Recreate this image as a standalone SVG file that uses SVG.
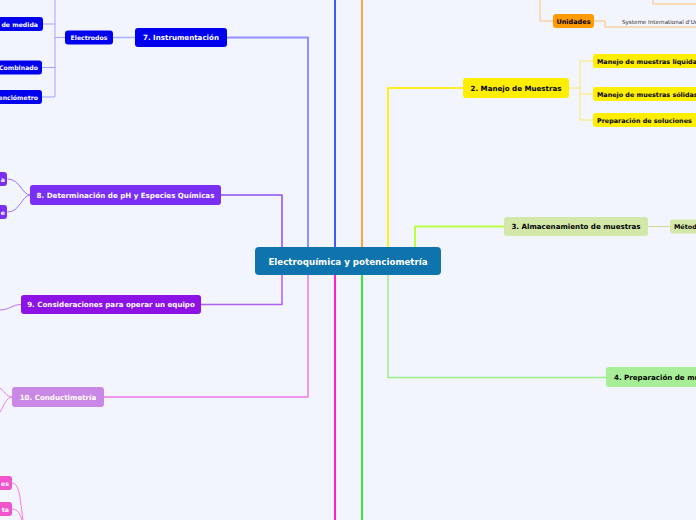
<svg xmlns="http://www.w3.org/2000/svg" width="696" height="520" viewBox="0 0 696 520">
<style>
text{font-family:"DejaVu Sans","Verdana",sans-serif;font-weight:bold}
.w{fill:#fff}
.k{fill:#000}
.c{fill:none;stroke-linecap:round;stroke-linejoin:round}
</style>
<rect width="696" height="520" fill="#f2f5fe"/>
<g id="connectors" class="c">
<path d="M227 37.5H308V247" stroke="#8f8fff" stroke-width="2"/>
<path d="M335 0V247" stroke="#3a5cff" stroke-width="2"/>
<path d="M362 0V247" stroke="#ffa53a" stroke-width="2"/>
<path d="M463 88H388V247" stroke="#ffee22" stroke-width="2"/>
<path d="M504 226.5H415V247" stroke="#b8ff44" stroke-width="2"/>
<path d="M221 195H282V247" stroke="#8d4df5" stroke-width="1.5"/>
<path d="M201 304.5H282V275" stroke="#b060f0" stroke-width="1.5"/>
<path d="M104 397H308V275" stroke="#ee77ee" stroke-width="1.5"/>
<path d="M335 275V520" stroke="#ff22cc" stroke-width="2"/>
<path d="M362 275V520" stroke="#33ee33" stroke-width="2"/>
<path d="M388 275V377.5H606" stroke="#99ee88" stroke-width="1.5"/>
<path d="M135 37.5H113" stroke="#aab0ff" stroke-width="1.5"/>
<path d="M65 37.5H55M55 0V97H42M55 24H43M55 67.5H42" stroke="#9fa4ff" stroke-width="1"/>
<path d="M569 88H580V61H593M580 94H593M580 88V120H593" stroke="#ffe866" stroke-width="1"/>
<path d="M648 226.5H670" stroke="#c8dd99" stroke-width="1"/>
<path d="M540 0V21H553" stroke="#ffc070" stroke-width="1"/>
<path d="M594 21H605V27H696" stroke="#ffc070" stroke-width="1"/>
<path d="M653 0V4H696" stroke="#ffc070" stroke-width="1"/>
<path d="M30 195C22 195 20 179 8 179M30 195C22 195 20 212 8 212" stroke="#a070ff" stroke-width="1"/>
<path d="M21 304.5C12 304.5 10 310 0 310" stroke="#c070f0" stroke-width="1"/>
<path d="M12 397C6 397 4 390 0 388M12 397C6 397 4 406 0 412" stroke="#ee77ee" stroke-width="1"/>
<path d="M12 483C20 483 20 500 23 520M12 509C18 509 20 514 22 520" stroke="#ff77dd" stroke-width="1"/>
</g>
<g id="root">
<rect x="255" y="247" width="186" height="28" rx="4" fill="#0f73ae"/>
<text x="348" y="264.5" text-anchor="middle" font-size="8.7" class="w">Electroquímica y potenciometría</text>
</g>
<g id="n7">
<rect x="135" y="28" width="92" height="19" rx="3" fill="#0000ee"/>
<text x="181" y="40" text-anchor="middle" font-size="7.1" class="w">7. Instrumentación</text>
</g>
<g id="electrodos">
<rect x="65" y="30.5" width="48" height="14" rx="3" fill="#0000ee"/>
<text x="89" y="40" text-anchor="middle" font-size="6.2" class="w">Electrodos</text>
</g>
<g id="e1">
<rect x="-30" y="17" width="73" height="14" rx="3" fill="#0000ee"/>
<text x="38" y="26.5" text-anchor="end" font-size="6.2" class="w">Electrodo de medida</text>
</g>
<g id="e2">
<rect x="-40" y="60.5" width="82" height="14" rx="3" fill="#0000ee"/>
<text x="38" y="70" text-anchor="end" font-size="6.2" class="w">Electrodo Combinado</text>
</g>
<g id="e3">
<rect x="-30" y="90" width="72" height="14" rx="3" fill="#0000ee"/>
<text x="38" y="99.5" text-anchor="end" font-size="6.2" class="w">Potenciómetro</text>
</g>
<g id="n8">
<rect x="30" y="185" width="191" height="20" rx="3" fill="#7a2ff5"/>
<text x="125.5" y="197.5" text-anchor="middle" font-size="7.1" class="w">8. Determinación de pH y Especies Químicas</text>
</g>
<g id="n8a"><rect x="-40" y="172" width="47" height="14" rx="3" fill="#7a2ff5"/><text x="5" y="181.5" text-anchor="end" font-size="6.2" class="w">a</text></g>
<g id="n8b"><rect x="-40" y="205" width="47" height="14" rx="3" fill="#7a2ff5"/><text x="5" y="214.5" text-anchor="end" font-size="6.2" class="w">e</text></g>
<g id="n9">
<rect x="21" y="295" width="180" height="19" rx="3" fill="#8c12e6"/>
<text x="111" y="307" text-anchor="middle" font-size="7.1" class="w">9. Consideraciones para operar un equipo</text>
</g>
<g id="n10">
<rect x="12" y="387" width="92" height="20" rx="3" fill="#c987e6"/>
<text x="58" y="399.5" text-anchor="middle" font-size="7.1" class="w">10. Conductimetría</text>
</g>
<g id="n10a"><rect x="-40" y="476" width="52" height="14" rx="3" fill="#f055cc"/><text x="9" y="485.5" text-anchor="end" font-size="6.2" class="w">es</text></g>
<g id="n10b"><rect x="-40" y="502" width="52" height="14" rx="3" fill="#f055cc"/><text x="9" y="511.5" text-anchor="end" font-size="6.2" class="w">ta</text></g>
<g id="unidades">
<rect x="553" y="14" width="41" height="14" rx="3" fill="#ff9a00"/>
<text x="573.5" y="23.5" text-anchor="middle" font-size="6.5" class="k">Unidades</text>
</g>
<g id="si">
<text x="622" y="23.5" font-size="5.6" style="font-weight:normal" fill="#333">Systeme International d'Unités</text>
</g>
<g id="n2">
<rect x="463" y="78" width="106" height="20" rx="3" fill="#ffee00"/>
<text x="516" y="90.5" text-anchor="middle" font-size="7.1" class="k">2. Manejo de Muestras</text>
</g>
<g id="n2a">
<rect x="593" y="54" width="120" height="14" rx="3" fill="#ffee00"/>
<text x="597" y="63.5" font-size="6.4" class="k">Manejo de muestras líquidas</text>
</g>
<g id="n2b">
<rect x="593" y="87" width="120" height="14" rx="3" fill="#ffee00"/>
<text x="597" y="96.5" font-size="6.4" class="k">Manejo de muestras sólidas</text>
</g>
<g id="n2c">
<rect x="593" y="113" width="120" height="14" rx="3" fill="#ffee00"/>
<text x="597" y="122.5" font-size="6.4" class="k">Preparación de soluciones</text>
</g>
<g id="n3">
<rect x="504" y="217" width="144" height="19" rx="3" fill="#d3e8a8"/>
<text x="576" y="229" text-anchor="middle" font-size="7.1" class="k">3. Almacenamiento de muestras</text>
</g>
<g id="n3a">
<rect x="670" y="219.5" width="50" height="14" rx="3" fill="#d3e8a8"/>
<text x="674" y="229" font-size="6.4" class="k">Métodos</text>
</g>
<g id="n4">
<rect x="606" y="367" width="120" height="20" rx="3" fill="#a8ee98"/>
<text x="614" y="380" font-size="7.1" class="k">4. Preparación de muestras</text>
</g>
</svg>
